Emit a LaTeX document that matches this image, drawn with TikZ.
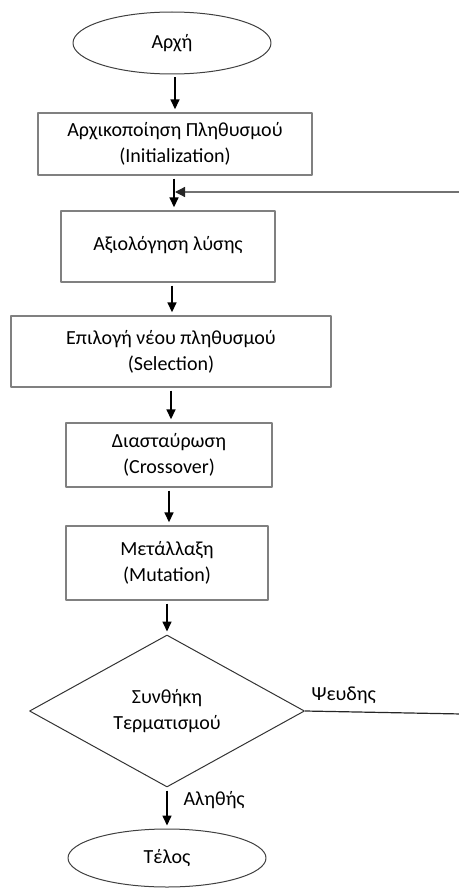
\documentclass[tikz,border=0pt]{standalone}
\usepackage{fontspec}
\setmainfont{Carlito}
\usetikzlibrary{arrows.meta,shapes.geometric}
\begin{document}
\begin{tikzpicture}[x=1pt, y=-1pt, font=\fontsize{20}{26}\selectfont, line join=round,
	stepbox/.style={draw=black!50, line width=1.4pt, rectangle, align=center, inner sep=0pt},
	termbox/.style={draw=black!75, line width=1pt, ellipse, inner sep=0pt},
	flow/.style={line width=1.6pt, -{Triangle[length=10pt,width=9pt]}, shorten <=3pt, shorten >=3pt},
	loopline/.style={draw=black!85, line width=1.2pt}]
	\useasboundingbox (0,0) rectangle (458,888);
	% steps
	\node[termbox, minimum width=198pt, minimum height=62pt] (start) at (172,43) {Αρχή};
	\node[stepbox, minimum width=274pt, minimum height=62pt] (init) at (175,144) {Αρχικοποίηση Πληθυσμού\\(Initialization)};
	\node[stepbox, minimum width=214pt, minimum height=71pt] (eval) at (168,246.5) {\raisebox{6pt}{Αξιολόγηση λύσης}};
	\node[stepbox, minimum width=320pt, minimum height=71pt] (sel) at (171,351.5) {Επιλογή νέου πληθυσμού\\(Selection)};
	\node[stepbox, minimum width=206pt, minimum height=64pt] (cross) at (169,455) {Διασταύρωση\\(Crossover)};
	\node[stepbox, minimum width=202pt, minimum height=74pt] (mut) at (167,563) {Μετάλλαξη\\(Mutation)};
	\node[diamond, draw=black!80, line width=1pt, minimum width=275pt, minimum height=152pt, inner sep=0pt, align=center] (dec) at (167,711) {Συνθήκη\\Τερματισμού};
	\node[termbox, minimum width=198pt, minimum height=58pt] (stop) at (167,858) {Τέλος};
	% arrows
	\draw[flow] (start.south -| init.north) -- (init.north);
	\coordinate (join) at (174,192);
	\draw[flow] (init.south -| join) -- (eval.north -| join);
	\draw[flow] (eval.south -| 172,0) -- (sel.north -| 172,0);
	\draw[flow] (sel.south) -- (sel.south |- cross.north);
	\draw[flow] (cross.south) -- (cross.south |- mut.north);
	\draw[flow] (mut.south) -- (dec.north);
	\draw[flow] (dec.south) -- (stop.north);
	% loop back
	\coordinate (fbdown) at (462,714);
	\coordinate (fbup) at (462,192);
	\draw[loopline, -{Triangle[length=10pt,width=10pt]}] (dec.east) -- (fbdown) -- (fbup) -- ([xshift=1pt]join);
	\node[anchor=south west] (no) at (308,707) {Ψευδης};
	\node[anchor=west] (yes) at (180,800) {Αληθής};
\end{tikzpicture}
\end{document}
